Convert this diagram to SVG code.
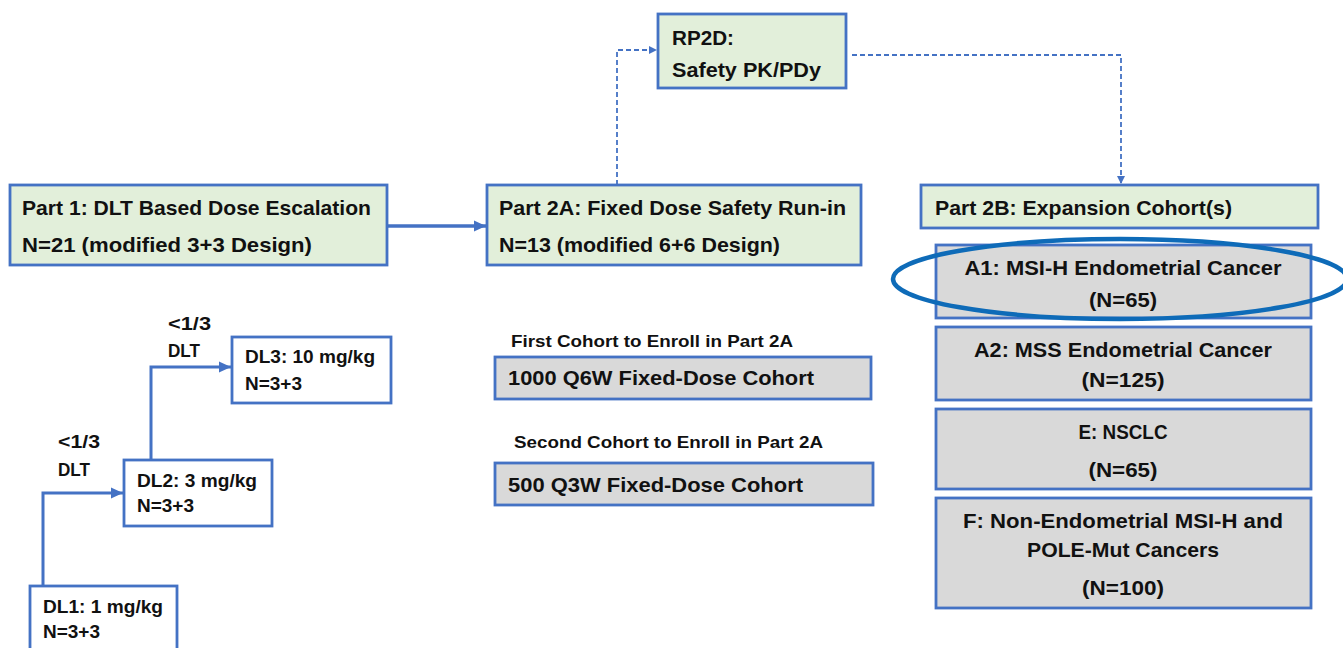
<svg xmlns="http://www.w3.org/2000/svg" width="1343" height="648" viewBox="0 0 1343 648">
<style>
.g{fill:#E2EFDA;stroke:#4472C4;stroke-width:2.8}
.s{fill:#D9D9D9;stroke:#4472C4;stroke-width:2.8}
.w{fill:#FFFFFF;stroke:#4472C4;stroke-width:2.8}
text{font-family:"Liberation Sans",Arial,sans-serif;font-weight:700;fill:#111}
.t20{font-size:21px}
.t18{font-size:18.5px}
.t16{font-size:17px}
.c{text-anchor:middle}
.sol{fill:none;stroke:#4472C4;stroke-width:3}
.dash{fill:none;stroke:#4472C4;stroke-width:1.8;stroke-dasharray:5 3}
</style>
<defs>
<marker id="ah" markerUnits="userSpaceOnUse" markerWidth="14" markerHeight="14" refX="12" refY="7" orient="auto">
<path d="M0,1.5 L12,7 L0,12.5 Z" fill="#4472C4"/>
</marker>
<marker id="ahs" markerUnits="userSpaceOnUse" markerWidth="10" markerHeight="10" refX="8" refY="5" orient="auto">
<path d="M0,1 L8,5 L0,9 Z" fill="#4472C4"/>
</marker>
</defs>

<g id="connectors">
<path class="sol" d="M387,226 L486,226" marker-end="url(#ah)" style="stroke-width:3.5"/>
<path class="dash" d="M617,185 L617,50 L657,50" marker-end="url(#ahs)"/>
<path class="dash" d="M852,55 L1121,55 L1121,184" marker-end="url(#ahs)"/>
<path class="sol" d="M43,586 L43,493 L123,493" marker-end="url(#ah)"/>
<path class="sol" d="M151,460 L151,367 L231,367" marker-end="url(#ah)"/>
</g>

<g id="part1">
<rect class="g" x="10" y="185" width="377" height="80"/>
<text class="t20" x="22" y="215" textLength="349" lengthAdjust="spacingAndGlyphs">Part 1: DLT Based Dose Escalation</text>
<text class="t20" x="22" y="252" textLength="290" lengthAdjust="spacingAndGlyphs">N=21 (modified 3+3 Design)</text>
</g>

<g id="part2a">
<rect class="g" x="487" y="185" width="374" height="80"/>
<text class="t20" x="499" y="215" textLength="347" lengthAdjust="spacingAndGlyphs">Part 2A: Fixed Dose Safety Run-in</text>
<text class="t20" x="499" y="252" textLength="281" lengthAdjust="spacingAndGlyphs">N=13 (modified 6+6 Design)</text>
</g>

<g id="rp2d">
<rect class="g" x="658" y="14" width="188" height="74"/>
<text class="t20" x="672" y="45" textLength="62" lengthAdjust="spacingAndGlyphs">RP2D:</text>
<text class="t20" x="672" y="77" textLength="149" lengthAdjust="spacingAndGlyphs">Safety PK/PDy</text>
</g>

<g id="part2b">
<rect class="g" x="921" y="185" width="397" height="43"/>
<text class="t20" x="935" y="215" textLength="297" lengthAdjust="spacingAndGlyphs">Part 2B: Expansion Cohort(s)</text>
</g>

<g id="a1">
<rect class="s" x="936" y="245" width="375" height="73"/>
<text class="t20 c" x="1123" y="275" textLength="317" lengthAdjust="spacingAndGlyphs">A1: MSI-H Endometrial Cancer</text>
<text class="t20 c" x="1123" y="307" textLength="68" lengthAdjust="spacingAndGlyphs">(N=65)</text>
</g>

<g id="a2">
<rect class="s" x="936" y="327" width="375" height="73"/>
<text class="t20 c" x="1123" y="357" textLength="298" lengthAdjust="spacingAndGlyphs">A2: MSS Endometrial Cancer</text>
<text class="t20 c" x="1123" y="387" textLength="83" lengthAdjust="spacingAndGlyphs">(N=125)</text>
</g>

<g id="e">
<rect class="s" x="936" y="409" width="375" height="80"/>
<text class="t20 c" x="1123" y="439" textLength="89" lengthAdjust="spacingAndGlyphs">E: NSCLC</text>
<text class="t20 c" x="1123" y="477" textLength="69" lengthAdjust="spacingAndGlyphs">(N=65)</text>
</g>

<g id="f">
<rect class="s" x="936" y="498" width="375" height="110"/>
<text class="t20 c" x="1123" y="528" textLength="320" lengthAdjust="spacingAndGlyphs">F: Non-Endometrial MSI-H and</text>
<text class="t20 c" x="1123" y="557" textLength="192" lengthAdjust="spacingAndGlyphs">POLE-Mut Cancers</text>
<text class="t20 c" x="1123" y="595" textLength="82" lengthAdjust="spacingAndGlyphs">(N=100)</text>
</g>

<g id="highlight">
<ellipse cx="1120" cy="279" rx="227" ry="40" fill="none" stroke="#0E6BB8" stroke-width="4.5"/>
</g>

<g id="cohort1">
<text class="t16" x="511" y="347" textLength="282" lengthAdjust="spacingAndGlyphs">First Cohort to Enroll in Part 2A</text>
<rect class="s" x="495" y="357" width="376" height="42"/>
<text class="t20" x="508" y="385" textLength="306" lengthAdjust="spacingAndGlyphs">1000 Q6W Fixed-Dose Cohort</text>
</g>

<g id="cohort2">
<text class="t16" x="514" y="448" textLength="309" lengthAdjust="spacingAndGlyphs">Second Cohort to Enroll in Part 2A</text>
<rect class="s" x="495" y="463" width="378" height="42"/>
<text class="t20" x="508" y="492" textLength="295" lengthAdjust="spacingAndGlyphs">500 Q3W Fixed-Dose Cohort</text>
</g>

<g id="dl3">
<rect class="w" x="232" y="337" width="159" height="66"/>
<text class="t18" x="245" y="363" textLength="130" lengthAdjust="spacingAndGlyphs">DL3: 10 mg/kg</text>
<text class="t18" x="245" y="390" textLength="57" lengthAdjust="spacingAndGlyphs">N=3+3</text>
</g>

<g id="dl2">
<rect class="w" x="124" y="460" width="148" height="66"/>
<text class="t18" x="137" y="487" textLength="120" lengthAdjust="spacingAndGlyphs">DL2: 3 mg/kg</text>
<text class="t18" x="137" y="512" textLength="57" lengthAdjust="spacingAndGlyphs">N=3+3</text>
</g>

<g id="dl1">
<rect class="w" x="30" y="586" width="147" height="70"/>
<text class="t18" x="43" y="613" textLength="120" lengthAdjust="spacingAndGlyphs">DL1: 1 mg/kg</text>
<text class="t18" x="43" y="638" textLength="57" lengthAdjust="spacingAndGlyphs">N=3+3</text>
</g>

<g id="labels">
<text class="t18" x="58" y="448" textLength="42" lengthAdjust="spacingAndGlyphs">&lt;1/3</text>
<text class="t18" x="58" y="476" textLength="32" lengthAdjust="spacingAndGlyphs">DLT</text>
<text class="t18" x="168" y="330" textLength="43" lengthAdjust="spacingAndGlyphs">&lt;1/3</text>
<text class="t18" x="168" y="357" textLength="32" lengthAdjust="spacingAndGlyphs">DLT</text>
</g>
</svg>
